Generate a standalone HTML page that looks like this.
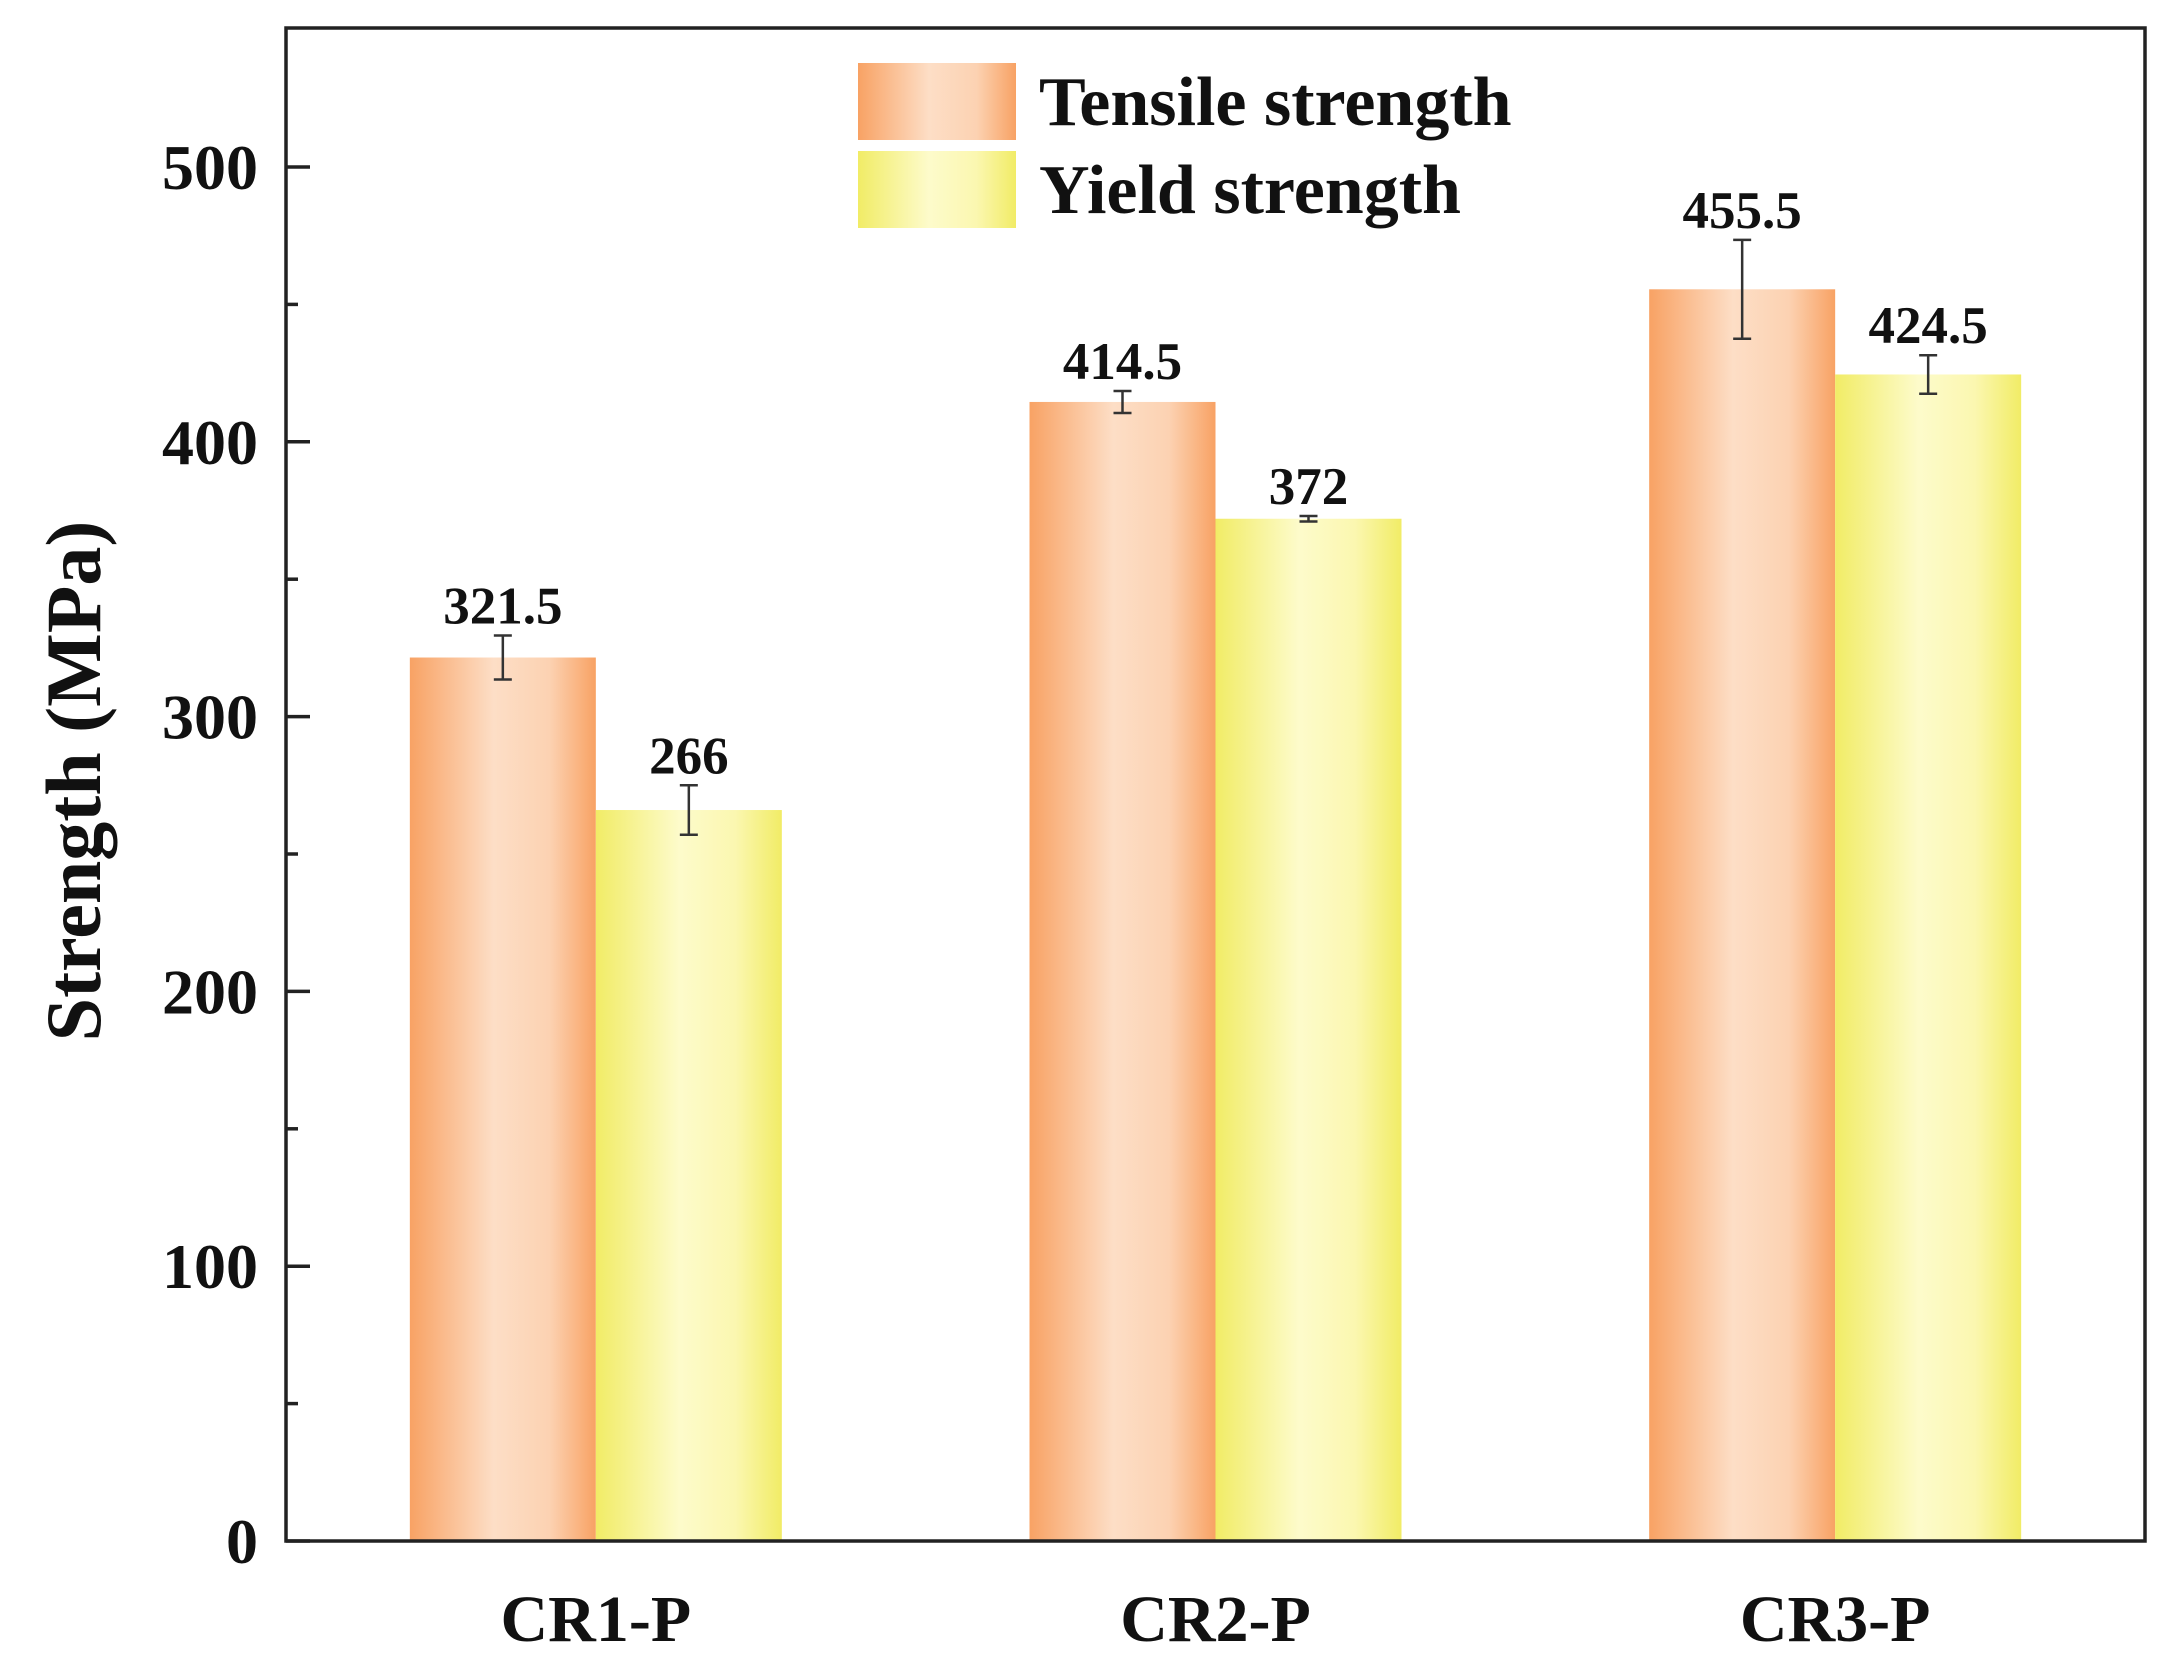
<!DOCTYPE html>
<html><head><meta charset="utf-8"><style>
html,body{margin:0;padding:0;background:#fff;}
svg{display:block;font-family:"Liberation Serif",serif;font-weight:bold;}
</style></head><body>
<svg id="chart" width="2176" height="1659" viewBox="0 0 2176 1659">
<defs>
<linearGradient id="gT" x1="0" x2="1" y1="0" y2="0">
<stop offset="0" stop-color="#F8A264"/><stop offset="0.45" stop-color="#FDDEC6"/><stop offset="0.75" stop-color="#FCD2B2"/><stop offset="1" stop-color="#F8A264"/></linearGradient>
<linearGradient id="gY" x1="0" x2="1" y1="0" y2="0">
<stop offset="0" stop-color="#F1EC66"/><stop offset="0.45" stop-color="#FDFBCB"/><stop offset="0.75" stop-color="#FBF7B0"/><stop offset="1" stop-color="#F1EC66"/></linearGradient>
</defs>
<g id="plot"></g>
</svg>
<script>
const categories = ["CR1-P","CR2-P","CR3-P"];
const tensile = [321.5, 414.5, 455.5];
const yieldS = [266, 372, 424.5];
const tensileErr = [8, 4, 18];
const yieldErr = [9, 1, 7];
const tensileLabels = ["321.5","414.5","455.5"];
const yieldLabels = ["266","372","424.5"];
const yTicks = [0,100,200,300,400,500];

const L=286, R=2145, T=28, B=1541;
const NS="http://www.w3.org/2000/svg";
const g=document.getElementById('plot');
function y(v){return B-(v/500)*(B-167);}
function xc(i){return L+(i+0.5)*(R-L)/categories.length;}
const bw=186;
function el(tag,attrs){const e=document.createElementNS(NS,tag);for(const k in attrs)e.setAttribute(k,attrs[k]);g.appendChild(e);return e;}

function bar(i,v,err,lab,fill,off,name){
  const x0=xc(i)+off;
  const r=el('rect',{x:x0,y:y(v),width:bw,height:B-y(v),fill:fill});
  
  
  const cx=x0+bw/2;
  const e=el('path',{d:`M${cx},${y(v+err)}V${y(v-err)}M${cx-9},${y(v+err)}H${cx+9}M${cx-9},${y(v-err)}H${cx+9}`,stroke:'#333',"stroke-width":2.5,fill:'none'});
  
  
  const t=el('text',{x:cx,y:y(v+err)-12,"text-anchor":"middle","font-size":53,fill:'#111'});
  t.textContent=lab;
  
  
}
categories.forEach((c,i)=>{
  bar(i,tensile[i],tensileErr[i],tensileLabels[i],'url(#gT)',-bw,'tensile');
  bar(i,yieldS[i],yieldErr[i],yieldLabels[i],'url(#gY)',0,'yield');
  const t=el('text',{x:xc(i),y:1641,"text-anchor":"middle","font-size":66,fill:'#111'});
  t.textContent=c;
  
  
});
const f=el('rect',{x:L,y:T,width:R-L,height:B-T,fill:'none',stroke:'#222',"stroke-width":3.5});


yTicks.forEach(v=>{
  const tk=el('line',{x1:L,x2:L+24,y1:y(v),y2:y(v),stroke:'#222',"stroke-width":3.5});
  
  
  const t=el('text',{x:258,y:y(v)+22,"text-anchor":"end","font-size":64,fill:'#111'});
  t.textContent=v;
  
  
  if(v<500){
    const m=el('line',{x1:L,x2:L+12,y1:y(v+50),y2:y(v+50),stroke:'#222',"stroke-width":3.5});
    
    
  }
});
const yt=el('text',{x:0,y:0,"text-anchor":"middle","font-size":78,fill:'#111',transform:'translate(100,781) rotate(-90)'});
yt.textContent='Strength (MPa)';


const legend=[['Tensile strength','url(#gT)',63],['Yield strength','url(#gY)',151]];
legend.forEach(([txt,fill,ly])=>{
  const r=el('rect',{x:858,y:ly,width:158,height:77,fill:fill});
  
  
  const t=el('text',{x:1039,y:ly+62,"font-size":70,fill:'#111'});
  t.textContent=txt;
  
  
});
</script>
</body></html>
